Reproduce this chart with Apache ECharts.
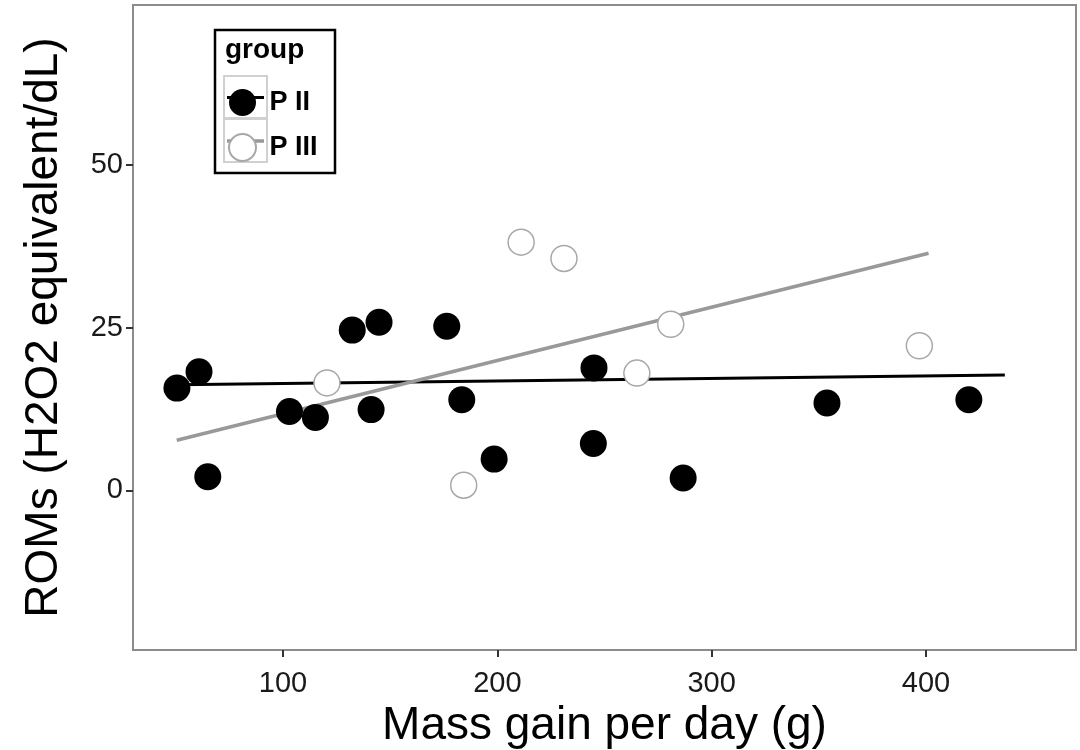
<!DOCTYPE html>
<html>
<head>
<meta charset="utf-8">
<script src="https://cdn.jsdelivr.net/npm/echarts@6/dist/echarts.min.js"></script>
<style>
  html, body { margin: 0; padding: 0; background: #fff; }
  #chart { width: 1080px; height: 750px; }
</style>
</head>
<body>
<div id="chart"></div>
<script>
// ---- data ----
const groupNames = ['P II', 'P III'];
const p2x = [50.5, 60.8, 64.9, 103, 115.1, 132.3, 141.1, 144.8, 176.4, 183.4, 198.5, 244.8, 245.1, 286.7, 353.8, 420];
const p2y = [15.7, 18.2, 2.1, 12.1, 11.2, 24.6, 12.4, 25.8, 25.2, 13.9, 4.8, 7.2, 18.8, 1.9, 13.4, 13.9];
const p3x = [120.5, 184.3, 211.1, 231.1, 265.1, 280.9, 396.9];
const p3y = [16.5, 0.8, 38.1, 35.6, 18.0, 25.5, 22.2];
const p2FitX = [50.5, 436.8];
const p2FitY = [16.2, 17.7];
const p3FitX = [50.4, 401.2];
const p3FitY = [7.7, 36.4];
const xTicks = [100, 200, 300, 400];
const yTicks = [0, 25, 50];
const xTitle = 'Mass gain per day (g)';
const yTitle = 'ROMs (H2O2 equivalent/dL)';
const legendTitle = 'group';

const zip = (a, b) => a.map((v, i) => [v, b[i]]);

const chart = echarts.init(document.getElementById('chart'), null, { renderer: 'canvas' });
const FONT = '"Liberation Sans", Arial, sans-serif';

const option = {
  backgroundColor: '#ffffff',
  animation: false,
  grid: {
    left: 133, top: 5, right: 4, bottom: 100,
    outerBoundsMode: 'none', containLabel: false,
    show: true, borderColor: '#8c8c8c', borderWidth: 2, backgroundColor: '#ffffff'
  },
  xAxis: {
    type: 'value', min: 30, max: 470,
    name: xTitle, nameLocation: 'middle', nameGap: 48,
    nameTextStyle: { fontFamily: FONT, fontSize: 46, color: '#000' },
    axisLine: { show: false, onZero: false },
    splitLine: { show: false },
    axisTick: { show: true, length: 7, lineStyle: { color: '#333', width: 2 }, customValues: xTicks },
    axisLabel: { fontFamily: FONT, fontSize: 29, color: '#1a1a1a', margin: 19, customValues: xTicks }
  },
  yAxis: {
    type: 'value', min: -24.5, max: 74.5,
    name: yTitle, nameLocation: 'middle', nameGap: 66, nameRotate: 90,
    nameTextStyle: { fontFamily: FONT, fontSize: 46, color: '#000' },
    axisLine: { show: false, onZero: false },
    splitLine: { show: false },
    axisTick: { show: true, length: 7, lineStyle: { color: '#333', width: 2 }, customValues: yTicks },
    axisLabel: { fontFamily: FONT, fontSize: 29, color: '#1a1a1a', margin: 10, customValues: yTicks }
  },
  legend: {
    data: groupNames,
    orient: 'vertical',
    left: 223, top: 84,
    itemWidth: 44, itemHeight: 27, itemGap: 17,
    icon: 'circle',
    textStyle: { fontFamily: FONT, fontSize: 27, fontWeight: 'bold', color: '#000' },
    selectedMode: false
  },
  graphic: [
    { type: 'rect', z: 1, shape: { x: 215, y: 30, width: 120, height: 143 },
      style: { fill: '#fff', stroke: '#000', lineWidth: 2.5 } },
    { type: 'text', z: 2, left: 225, top: 36,
      style: { text: legendTitle, fontFamily: FONT, fontSize: 28, fontWeight: 'bold', fill: '#000' } },
    { type: 'rect', z: 2, shape: { x: 224, y: 76, width: 43, height: 42 },
      style: { fill: '#fff', stroke: '#d0d0d0', lineWidth: 2 } },
    { type: 'rect', z: 2, shape: { x: 224, y: 119, width: 43, height: 43 },
      style: { fill: '#fff', stroke: '#d0d0d0', lineWidth: 2 } },
    { type: 'line', z: 3, shape: { x1: 227, y1: 97.5, x2: 264, y2: 97.5 },
      style: { stroke: '#000', lineWidth: 3 } },
    { type: 'line', z: 3, shape: { x1: 227, y1: 141, x2: 264, y2: 141 },
      style: { stroke: '#999', lineWidth: 3.5 } }
  ],
  series: [
    {
      name: 'P II fit', type: 'line', data: zip(p2FitX, p2FitY), showSymbol: false, symbol: 'none',
      lineStyle: { color: '#000', width: 3 }, z: 2, silent: true
    },
    {
      name: 'P III fit', type: 'line', data: zip(p3FitX, p3FitY), showSymbol: false, symbol: 'none',
      lineStyle: { color: '#999', width: 3.5 }, z: 2, silent: true
    },
    {
      name: 'P II', type: 'scatter', data: zip(p2x, p2y), symbol: 'circle', symbolSize: 27,
      itemStyle: { color: '#000', opacity: 1 }, z: 3
    },
    {
      name: 'P III', type: 'scatter', data: zip(p3x, p3y), symbol: 'circle', symbolSize: 26,
      itemStyle: { color: '#fff', borderColor: '#a8a8a8', borderWidth: 1.5, opacity: 1 }, z: 3
    }
  ]
};
chart.setOption(option);
</script>
</body>
</html>
